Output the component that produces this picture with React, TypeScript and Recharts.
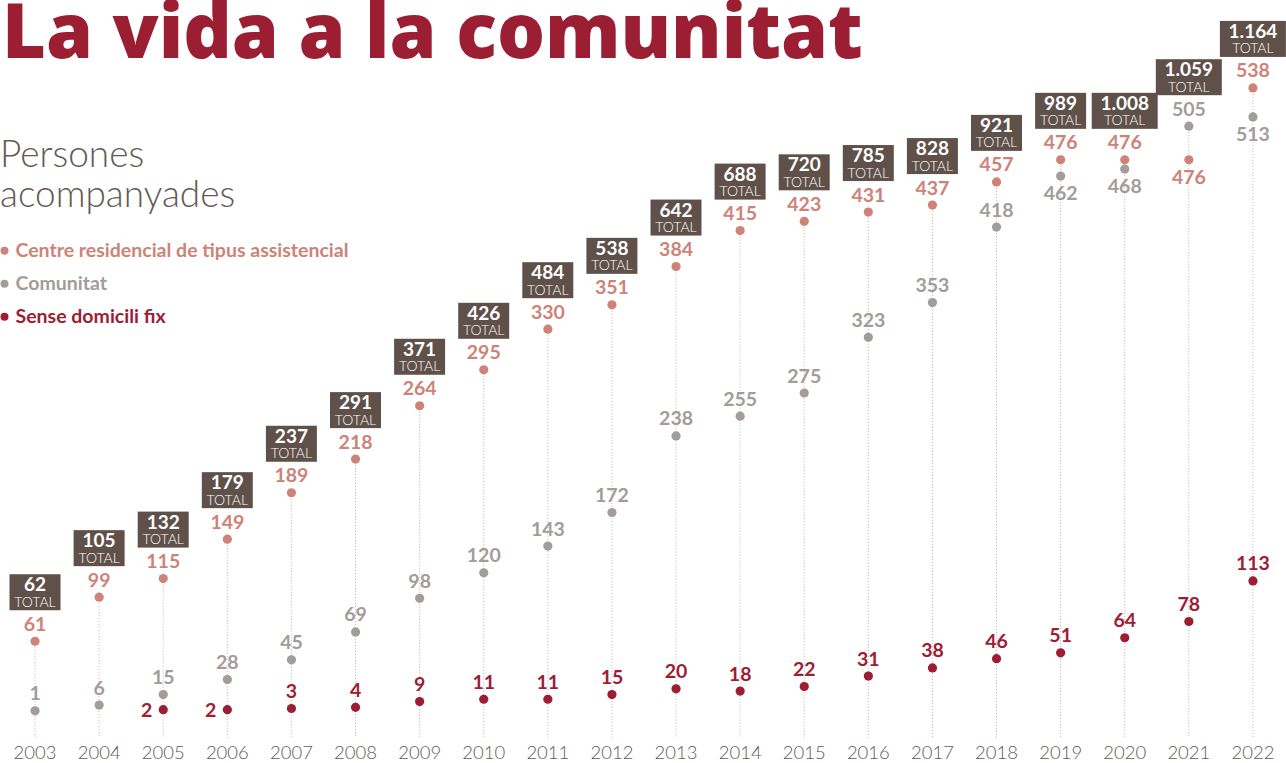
import { Bar, ComposedChart, Line, XAxis, YAxis } from 'recharts'

const years = [
  2003, 2004, 2005, 2006, 2007, 2008, 2009, 2010, 2011, 2012, 2013, 2014, 2015,
  2016, 2017, 2018, 2019, 2020, 2021, 2022,
]
const centreResidencial = [
  61, 99, 115, 149, 189, 218, 264, 295, 330, 351, 384, 415, 423, 431, 437, 457,
  476, 476, 476, 538,
]
const comunitat = [
  1, 6, 15, 28, 45, 69, 98, 120, 143, 172, 238, 255, 275, 323, 353, 418, 462,
  468, 505, 513,
]
const senseDomicili = [
  null, null, 2, 2, 3, 4, 9, 11, 11, 15, 20, 18, 22, 31, 38, 46, 51, 64, 78, 113,
]
const totals = [
  62, 105, 132, 179, 237, 291, 371, 426, 484, 538, 642, 688, 720, 785, 828, 921,
  989, 1008, 1059, 1164,
]

const colors: Record<string, string> = {
  centre: '#cd8378',
  comunitat: '#a39c98',
  sense: '#9d1d33',
  box: '#5f514a',
  title: '#9b1e32',
  text: '#655a55',
}

const seriesKeys = ['centre', 'comunitat', 'sense']
const seriesNames: Record<string, string> = {
  centre: 'Centre residencial de tipus assistencial',
  comunitat: 'Comunitat',
  sense: 'Sense domicili fix',
}

const font = 'Lato, "Open Sans", sans-serif'

const data = years.map((year, i) => ({
  year,
  centre: centreResidencial[i],
  comunitat: comunitat[i],
  sense: senseDomicili[i],
  total: totals[i],
  top: Math.max(centreResidencial[i], comunitat[i]),
}))

function formatTotal(value: number) {
  if (value < 1000) return String(value)
  return `${Math.floor(value / 1000)}.${String(value % 1000).padStart(3, '0')}`
}

// dotted stem from the x axis up to the highest dot, with the total box on top
function StemWithTotal(props: any) {
  const { x, y, width, height, payload } = props
  if (x == null || y == null) return <g />
  const cx = x + width / 2
  const label = formatTotal(payload.total)
  const w = label.length > 3 ? 66 : 51
  const bottom = y - 31
  return (
    <g>
      <line
        x1={cx}
        x2={cx}
        y1={y}
        y2={y + height + 26}
        stroke="#b9b3b0"
        strokeWidth={1}
        strokeDasharray="1 2"
      />
      <rect x={cx - w / 2} y={bottom - 36} width={w} height={36} fill={colors.box} />
      <text
        x={cx}
        y={bottom - 19}
        textAnchor="middle"
        fill="#fff"
        fontFamily={font}
        fontWeight={700}
        fontSize={19}
      >
        {label}
      </text>
      <text
        x={cx}
        y={bottom - 3.5}
        textAnchor="middle"
        fill="#fff"
        fontFamily={font}
        fontWeight={300}
        fontSize={14}
      >
        TOTAL
      </text>
    </g>
  )
}

function makeDot(key: 'centre' | 'comunitat' | 'sense') {
  return (props: any) => {
    const { cx, cy, payload, index } = props
    const value = payload?.[key]
    if (cx == null || cy == null || value == null) return <g key={`${key}-${index}`} />
    let dx = 0
    let dy = -10.5
    let anchor = 'middle'
    if (key === 'sense') {
      if (payload.comunitat - value < 30) {
        dx = -11
        dy = 7
        anchor = 'end'
      }
    } else {
      const other = key === 'centre' ? payload.comunitat : payload.centre
      const diff = other - value
      if (diff > 0 && diff < 30) dy = 24
    }
    return (
      <g key={`${key}-${index}`}>
        <circle cx={cx} cy={cy} r={4.6} fill={colors[key]} />
        <text
          x={cx + dx}
          y={cy + dy}
          textAnchor={anchor}
          fill={colors[key]}
          fontFamily={font}
          fontWeight={700}
          fontSize={19.5}
        >
          {value}
        </text>
      </g>
    )
  }
}

function YearTick(props: any) {
  const { x, y, payload } = props
  return (
    <text
      x={x}
      y={y + 47}
      textAnchor="middle"
      fill={colors.text}
      fontFamily={font}
      fontWeight={300}
      fontSize={18.5}
    >
      {payload.value}
    </text>
  )
}

export default function App() {
  return (
    <div style={{ position: 'absolute', left: 0, top: 0, width: 1286, height: 763, background: '#fff' }}>
      <svg width={1286} height={340} style={{ position: 'absolute', left: 0, top: 0 }}>
        <text
          x={2}
          y={57.5}
          fill={colors.title}
          fontFamily='"Open Sans", sans-serif'
          fontWeight={800}
          fontSize={75.5}
        >
          La vida a la comunitat
        </text>
        <text x={0} y={166.7} fill={colors.text} fontFamily={font} fontWeight={300} fontSize={37}>
          Persones
        </text>
        <text x={0} y={206.7} fill={colors.text} fontFamily={font} fontWeight={300} fontSize={37}>
          acompanyades
        </text>
        {seriesKeys.map((key, i) => (
          <g key={key}>
            <circle cx={4.5} cy={250.7 + i * 33} r={4} fill={colors[key]} />
            <text
              x={15.5}
              y={257.3 + i * 33}
              fill={colors[key]}
              fontFamily={font}
              fontWeight={700}
              fontSize={19.5}
            >
              {seriesNames[key]}
            </text>
          </g>
        ))}
      </svg>
      <ComposedChart
        width={1286}
        height={763}
        data={data}
        margin={{ top: 16, right: 1, bottom: 0, left: 3 }}
        style={{ position: 'absolute', left: 0, top: 0 }}
      >
        <XAxis
          type="number"
          dataKey="year"
          domain={[2002.5, 2022.5]}
          ticks={years}
          interval={0}
          height={51}
          tickSize={0}
          tickMargin={0}
          axisLine={false}
          tickLine={false}
          tick={<YearTick />}
        />
        <YAxis hide domain={[0, 600]} />
        <Bar
          dataKey="top"
          barSize={2}
          legendType="none"
          shape={<StemWithTotal />}
          isAnimationActive={false}
        />
        <Line
          dataKey="centre"
          name={seriesNames.centre}
          stroke="none"
          strokeWidth={0}
          dot={makeDot('centre')}
          activeDot={false}
          isAnimationActive={false}
        />
        <Line
          dataKey="comunitat"
          name={seriesNames.comunitat}
          stroke="none"
          strokeWidth={0}
          dot={makeDot('comunitat')}
          activeDot={false}
          isAnimationActive={false}
        />
        <Line
          dataKey="sense"
          name={seriesNames.sense}
          stroke="none"
          strokeWidth={0}
          dot={makeDot('sense')}
          activeDot={false}
          isAnimationActive={false}
        />
      </ComposedChart>
    </div>
  )
}
